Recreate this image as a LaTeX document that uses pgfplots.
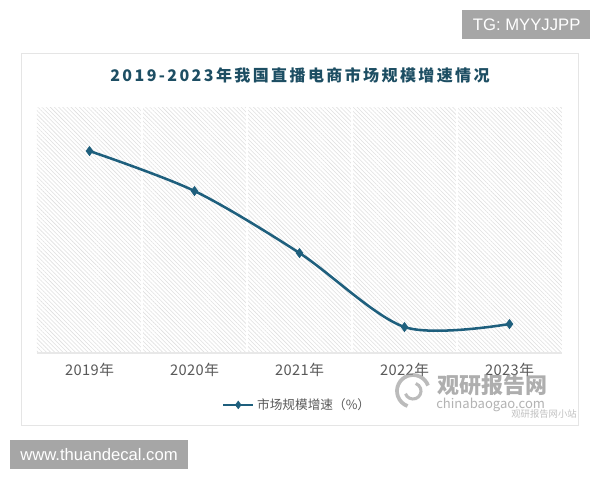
\documentclass[border=0pt]{standalone}
\usepackage{fontspec}
\setmainfont{Noto Sans CJK SC}
\newfontfamily\latinf{Liberation Sans}
\usepackage{pgfplots}
\pgfplotsset{compat=1.18}
\usetikzlibrary{patterns.meta}
\definecolor{linec}{HTML}{1E5F7D}
\definecolor{titlec}{HTML}{1D4E63}
\definecolor{labc}{HTML}{595959}
\definecolor{boxc}{HTML}{A6A6A6}
\begin{document}
\begin{tikzpicture}
% page, 1px = 0.75pt, origin top left
\path[fill=white] (0pt,0pt) rectangle (450pt,-360pt);
% watermark boxes
\fill[boxc] (346.5pt,-7.5pt) rectangle (442.5pt,-29.25pt);
\node[text=white, font=\latinf\fontsize{12.5}{14}\selectfont] at (395pt,-18.4pt) {TG: MYYJJPP};
\fill[boxc] (7.5pt,-330pt) rectangle (141pt,-351.75pt);
\node[text=white, font=\latinf\fontsize{12.5}{14}\selectfont] at (74.25pt,-340.9pt) {www.thuandecal.com};
% card
\draw[gray!20, fill=white, line width=0.6pt] (16.3pt,-39.75pt) rectangle (433.5pt,-318.75pt);
\node[text=titlec, font=\fontsize{12}{14}\selectfont\bfseries\addfontfeature{LetterSpace=15}] at (225pt,-56.25pt)
  {2019-2023年我国直播电商市场规模增速情况};
\begin{axis}[
  at={(27.75pt,-80.25pt)}, anchor=north west,
  width=393.75pt, height=184.5pt, scale only axis,
  xmin=-0.5, xmax=4.5, ymin=0, ymax=246,
  axis x line*=bottom, axis y line=none,
  x axis line style={-, draw=gray!18, line width=0.8pt},
  xtick={0,1,2,3,4},
  xticklabels={2019年,2020年,2021年,2022年,2023年},
  major tick length=0pt,
  xticklabel style={text=labc, font=\fontsize{11}{13}\selectfont\addfontfeature{LetterSpace=3}, yshift=-4pt},
  minor xtick={0.5,1.5,2.5,3.5},
  minor tick length=0pt,
  xminorgrids, minor grid style={white, line width=0.8pt},
  axis background/.style={pattern={Lines[angle=-45,distance=2.2pt,line width=0.42pt]}, pattern color=gray!24},
  legend style={at={(0.496,-0.211)}, anchor=center, draw=none, fill=none,
    font=\fontsize{9.5}{11}\selectfont, text=labc},
  legend image code/.code={\draw[#1, mark repeat=2, mark phase=2, mark size=2.8pt] plot coordinates {(0pt,0pt) (11.25pt,0pt) (22.5pt,0pt)};},
]
\addplot[color=linec, line width=1.9pt, smooth, mark=diamond*, mark size=3.4pt,
  mark options={fill=linec, draw=linec, line width=0.5pt}]
  coordinates {(0,202) (1,162) (2,100) (3,26) (4,29)};
\addlegendentry{市场规模增速（\%）}
\end{axis}
% chinabaogao watermark
\begin{scope}[opacity=0.7]
\draw[gray!75, line width=2.8pt] (309.75pt,-293.25pt) ++(20:12pt) arc (20:250:12pt);
\draw[gray!75, line width=2.3pt] (309.75pt,-293.25pt) ++(200:6pt) arc (200:430:6pt);
\node[text=gray!90, font=\fontsize{16.5}{18}\selectfont\bfseries] at (369pt,-288.75pt) {观研报告网};
\node[text=gray!85, font=\fontsize{9.8}{11}\selectfont] at (368pt,-303.75pt) {chinabaogao.com};
\node[text=gray!70, font=\fontsize{7}{8}\selectfont] at (408pt,-310.5pt) {观研报告网小站};
\end{scope}
\end{tikzpicture}
\end{document}
